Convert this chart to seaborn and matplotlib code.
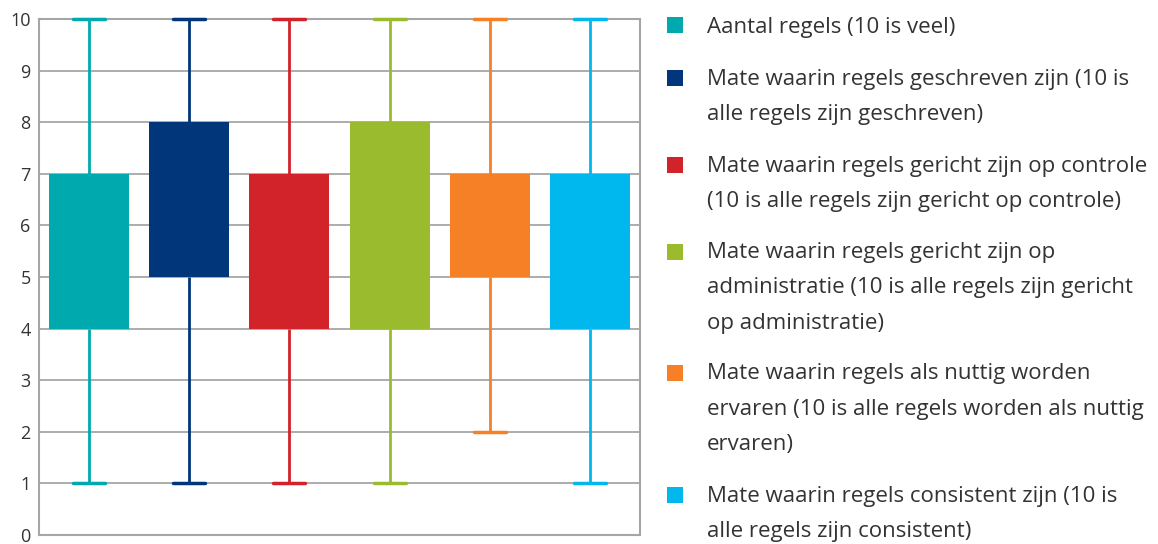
import numpy as np
import pandas as pd
import matplotlib
matplotlib.use("Agg")
import matplotlib.pyplot as plt
import seaborn as sns
from matplotlib.patches import Rectangle

categories = [
    "Aantal regels (10 is veel)",
    "Mate waarin regels geschreven zijn (10 is\nalle regels zijn geschreven)",
    "Mate waarin regels gericht zijn op controle\n(10 is alle regels zijn gericht op controle)",
    "Mate waarin regels gericht zijn op\nadministratie (10 is alle regels zijn gericht\nop administratie)",
    "Mate waarin regels als nuttig worden\nervaren (10 is alle regels worden als nuttig\nervaren)",
    "Mate waarin regels consistent zijn (10 is\nalle regels zijn consistent)",
]
mins = [1, 1, 1, 1, 2, 1]
q1s = [4, 5, 4, 4, 5, 4]
medians = [5, 6, 5, 6, 6, 5]
q3s = [7, 8, 7, 8, 7, 7]
maxs = [10, 10, 10, 10, 10, 10]
colors = ["#00A9AD", "#01377A", "#D2232A", "#9BBB2F", "#F58025", "#00B8EE"]
yticks = list(range(0, 11))

rows = []
for i, c in enumerate(categories):
    for v in (mins[i], q1s[i], medians[i], q3s[i], maxs[i]):
        rows.append({"cat": c, "value": v})
df = pd.DataFrame(rows)

sns.set_theme(style="white")
plt.rcParams["font.family"] = ["Open Sans", "DejaVu Sans"]

fig = plt.figure(figsize=(11.58, 5.44), dpi=100)
ax = fig.add_axes([39 / 1158, 1 - 535 / 544, (640 - 39) / 1158, (535 - 19) / 544])

sns.boxplot(data=df, x="cat", y="value", hue="cat", palette=colors, order=categories,
            hue_order=categories, whis=(0, 100), width=0.8, showfliers=False,
            linewidth=2, medianprops={"visible": False}, capwidths=0.32,
            legend=False, ax=ax)

# colour whiskers/caps/boxes per category
for ln in ax.lines:
    xd = np.asarray(ln.get_xdata(), dtype=float)
    if xd.size == 0:
        continue
    idx = int(round(xd.mean()))
    if 0 <= idx < len(colors):
        ln.set_color(colors[idx])
        ln.set_zorder(3)
        ln.set_clip_on(False)
        if xd.size == 2 and abs(xd[1] - xd[0]) > 0.01:
            ln.set_linewidth(2.5)
for p in ax.patches:
    ext = p.get_path().get_extents()
    idx = int(round((ext.x0 + ext.x1) / 2))
    if 0 <= idx < len(colors):
        p.set_facecolor(colors[idx])
        p.set_edgecolor(colors[idx])
        p.set_linewidth(0)
        p.set_zorder(2)

ax.set_ylim(0, 10)
ax.set_xlim(-0.5, 5.5)
ax.set_yticks(yticks)
ax.set_yticklabels([str(t) for t in yticks], fontsize=13, color="#333333")
ax.set_xticks([])
ax.set_xlabel("")
ax.set_ylabel("")
ax.yaxis.grid(True, color="#A6A6A6", linewidth=1.3)
ax.set_axisbelow(True)
ax.tick_params(axis="y", length=0, pad=6)
for s in ax.spines.values():
    s.set_color("#A6A6A6")
    s.set_linewidth(1.5)
    s.set_zorder(1)

# legend drawn at right
W, H = 1158, 544
line_h = 34.5
gap = 18
y = 25
for i, lab in enumerate(categories):
    nlines = lab.count("\n") + 1
    fig.patches.append(Rectangle((667 / W, 1 - (y + 8) / H), 16 / W, 16 / H,
                                 transform=fig.transFigure, facecolor=colors[i],
                                 edgecolor="none"))
    y_last = y + 8 + (nlines - 1) * line_h
    fig.text(707 / W, 1 - y_last / H, lab, fontsize=16, color="#333333",
             va="baseline", ha="left", linespacing=1.9)
    y += nlines * line_h + gap

fig.savefig("out.png", dpi=100)
